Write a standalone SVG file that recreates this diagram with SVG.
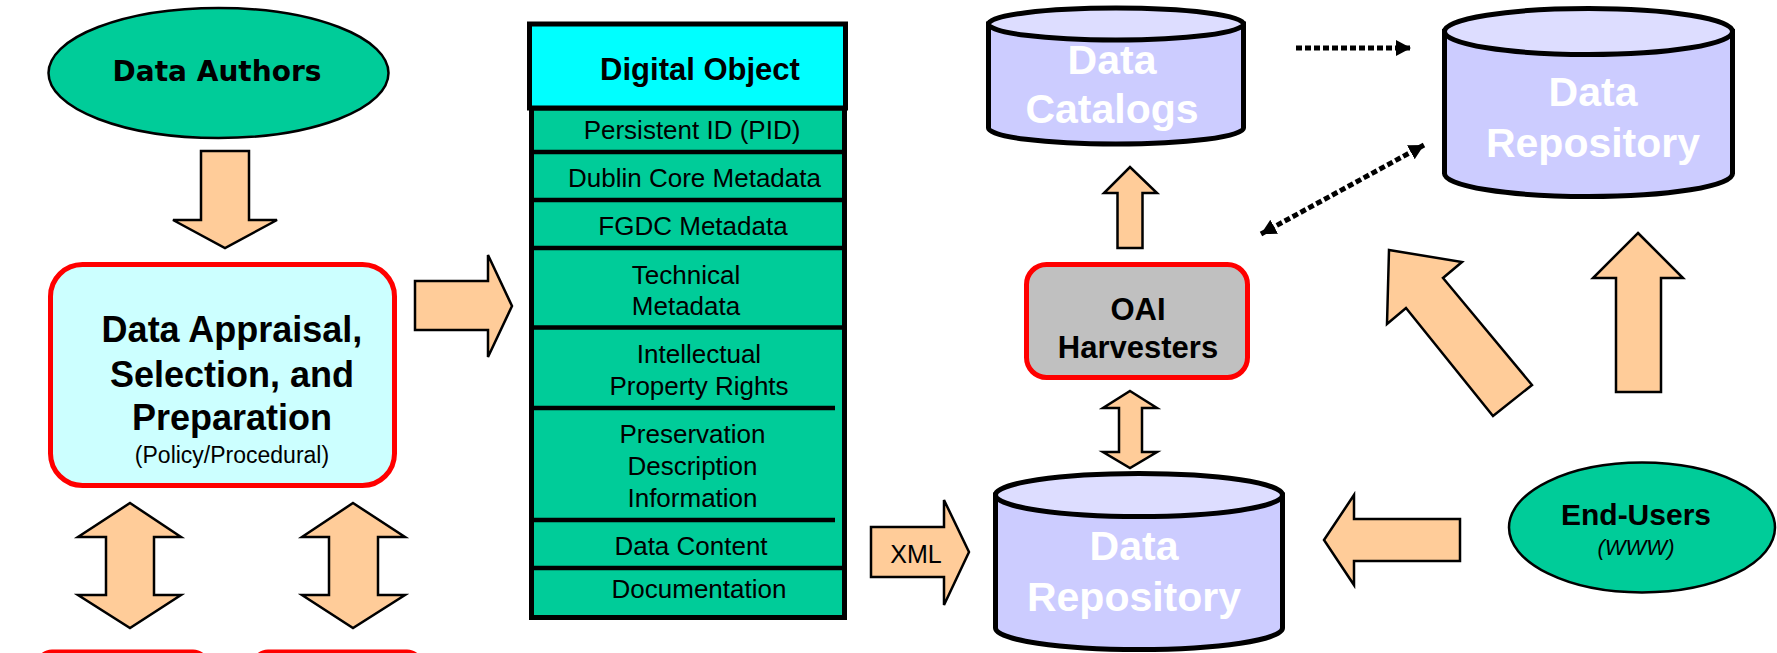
<svg xmlns="http://www.w3.org/2000/svg" width="1777" height="653" viewBox="0 0 1777 653">
<style>
.t{font-family:"Liberation Sans",Arial,sans-serif;text-anchor:middle;fill:#000}
.b{font-weight:bold}
.row{font-size:26px}
.cyl{font-family:"Liberation Sans",Arial,sans-serif;font-weight:bold;font-size:41px;fill:#FFFFFF;text-anchor:middle}
.blk{fill:#FFCC99;stroke:#000;stroke-width:2.5;stroke-linejoin:miter}
.green{fill:#00CC99;stroke:#000;stroke-width:2.5}
.body{fill:#CCCCFF;stroke:#000;stroke-width:5}
.top{fill:#DDDDFF;stroke:#000;stroke-width:5}
.sep{stroke:#000;stroke-width:4.5}
.dot{stroke:#000;stroke-width:5;stroke-dasharray:6 3;fill:none}
</style>
<defs>
<marker id="ah" markerUnits="userSpaceOnUse" markerWidth="17" markerHeight="17" refX="15" refY="8" orient="auto-start-reverse">
<path d="M0,0 L15,8 L0,16 Z" fill="#000"/>
</marker>
</defs>
<rect width="1777" height="653" fill="#FFFFFF"/>

<g id="connectors">
<polygon class="blk" points="201,151 249,151 249,220 277,220 225,248 173,220 201,220"/>
<polygon class="blk" points="415,281 488,281 488,255 512,306 488,357 488,330 415,330"/>
<polygon class="blk" points="130,503 181,537 154,537 154,595 181,595 130,628 78,595 106,595 106,537 78,537"/>
<polygon class="blk" points="353,503 405,537 378,537 378,595 405,595 353,628 302,595 329,595 329,537 302,537"/>
<g id="xml-arrow">
<polygon class="blk" points="871,527 944,527 944,500 969,552 944,605 944,577 871,577"/>
<text class="t" x="916" y="563" font-size="25">XML</text>
</g>
<polygon class="blk" points="1117.5,248 1117.5,193 1104,193 1130,167 1157,193 1142.5,193 1142.5,248"/>
<polygon class="blk" points="1130,391 1157,408 1142,408 1142,452 1157,452 1130,468 1103,452 1119,452 1119,408 1103,408"/>
<polygon class="blk" points="1324,540 1354,495 1354,519 1460,519 1460,561 1354,561 1354,585"/>
<polygon class="blk" points="1389,250 1462,262 1443,278 1532,385 1493,416 1406,308 1387,324"/>
<polygon class="blk" points="1638,233 1683,278 1661,278 1661,392 1616,392 1616,278 1593,278"/>
<line class="dot" x1="1296" y1="48" x2="1411" y2="48" marker-end="url(#ah)"/>
<line class="dot" x1="1261" y1="234" x2="1424" y2="145" marker-start="url(#ah)" marker-end="url(#ah)"/>
</g>

<g id="data-authors">
<ellipse class="green" cx="218.5" cy="73" rx="170" ry="65"/>
<text x="217" y="81" font-family="'DejaVu Sans',Verdana,sans-serif" font-weight="bold" font-size="28" text-anchor="middle">Data Authors</text>
</g>

<g id="appraisal">
<rect x="50.5" y="264.5" width="344" height="221" rx="32" fill="#CCFFFF" stroke="#FF0000" stroke-width="5"/>
<text class="t b" x="232" y="342" font-size="36">Data Appraisal,</text>
<text class="t b" x="232" y="387" font-size="36">Selection, and</text>
<text class="t b" x="232" y="430" font-size="36">Preparation</text>
<text class="t" x="232" y="463" font-size="23">(Policy/Procedural)</text>
</g>

<g id="bottom-box-1">
<rect x="38" y="652" width="169" height="80" rx="14" fill="#CCFFFF" stroke="#FF0000" stroke-width="5"/>
</g>
<g id="bottom-box-2">
<rect x="254" y="652" width="167" height="80" rx="14" fill="#CCFFFF" stroke="#FF0000" stroke-width="5"/>
</g>

<g id="digital-object">
<rect x="531.5" y="108" width="313" height="509.5" fill="#00CC99" stroke="#000" stroke-width="5"/>
<rect x="529.5" y="24" width="316" height="84" fill="#00FFFF" stroke="#000" stroke-width="5"/>
<line class="sep" x1="531" y1="152" x2="845" y2="152"/>
<line class="sep" x1="531" y1="200" x2="845" y2="200"/>
<line class="sep" x1="531" y1="248" x2="845" y2="248"/>
<line class="sep" x1="531" y1="327.5" x2="845" y2="327.5"/>
<line class="sep" x1="531" y1="408" x2="835" y2="408"/>
<line class="sep" x1="531" y1="520" x2="835" y2="520"/>
<line class="sep" x1="531" y1="568" x2="845" y2="568"/>
<text class="t b" x="700" y="80" font-size="31">Digital Object</text>
<text class="t row" x="692" y="139">Persistent ID (PID)</text>
<text class="t row" x="694.5" y="187">Dublin Core Metadata</text>
<text class="t row" x="693" y="235">FGDC Metadata</text>
<text class="t row" x="686" y="284">Technical</text>
<text class="t row" x="686" y="315">Metadata</text>
<text class="t row" x="699" y="363">Intellectual</text>
<text class="t row" x="699" y="395">Property Rights</text>
<text class="t row" x="692.5" y="443">Preservation</text>
<text class="t row" x="692.5" y="475">Description</text>
<text class="t row" x="692.5" y="507">Information</text>
<text class="t row" x="691" y="555">Data Content</text>
<text class="t row" x="699" y="598">Documentation</text>
</g>

<g id="data-catalogs">
<path class="body" d="M988.5,24 L988.5,128 A127.5,16 0 0 0 1243.5,128 L1243.5,24 Z"/>
<ellipse class="top" cx="1116" cy="24" rx="127.5" ry="16"/>
<text class="cyl" x="1112" y="74">Data</text>
<text class="cyl" x="1112" y="123">Catalogs</text>
</g>

<g id="data-repository-top">
<path class="body" d="M1444.5,31.5 L1444.5,173.5 A144,23 0 0 0 1732.5,173.5 L1732.5,31.5 Z"/>
<ellipse class="top" cx="1588.5" cy="31.5" rx="144" ry="23"/>
<text class="cyl" x="1593" y="106">Data</text>
<text class="cyl" x="1593" y="157">Repository</text>
</g>

<g id="oai-harvesters">
<rect x="1026.5" y="264.5" width="221" height="113" rx="20" fill="#C0C0C0" stroke="#FF0000" stroke-width="5"/>
<text class="t b" x="1138" y="320" font-size="31">OAI</text>
<text class="t b" x="1138" y="358" font-size="31">Harvesters</text>
</g>

<g id="data-repository-bottom">
<path class="body" d="M995.5,495 L995.5,628 A143.5,21.5 0 0 0 1282.5,628 L1282.5,495 Z"/>
<ellipse class="top" cx="1139" cy="495" rx="143.5" ry="21.5"/>
<text class="cyl" x="1134" y="560">Data</text>
<text class="cyl" x="1134" y="611">Repository</text>
</g>

<g id="end-users">
<ellipse class="green" cx="1642" cy="527.5" rx="133" ry="65"/>
<text class="t b" x="1636" y="525" font-size="30">End-Users</text>
<text class="t" x="1636" y="555" font-size="22" font-style="italic">(WWW)</text>
</g>
</svg>
